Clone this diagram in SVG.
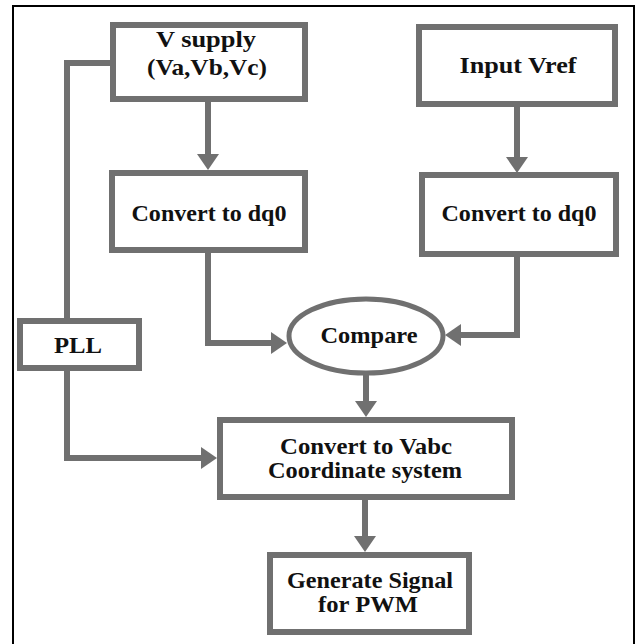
<svg xmlns="http://www.w3.org/2000/svg" width="642" height="644" viewBox="0 0 642 644">
<defs>
<marker id="ah" viewBox="0 0 16 22" refX="0" refY="11" markerWidth="16" markerHeight="22" markerUnits="userSpaceOnUse" orient="auto">
<path d="M0,0 L16,11 L0,22 z" fill="#707070"/>
</marker>
<style>
.box{fill:#fff;stroke:#707070;stroke-width:6}
.ell{fill:#fff;stroke:#707070;stroke-width:5}
.con{fill:none;stroke:#707070;stroke-width:6;stroke-linejoin:miter}
.arr{marker-end:url(#ah)}
.t{font-family:'Liberation Serif','Times New Roman',serif;font-weight:700;font-size:23px;fill:#111;text-anchor:middle}
</style>
</defs>
<rect x="0" y="0" width="642" height="644" fill="#fff"/>
<rect x="13" y="6" width="621" height="650" fill="none" stroke="#000" stroke-width="2"/>
<g id="connectors">
<polyline class="con" points="111,63 67,63 67,319"/>
<polyline class="con arr" points="67,370 67,458 201,458"/>
<polyline class="con arr" points="208,101 208,154"/>
<polyline class="con arr" points="517,106 517,157"/>
<polyline class="con arr" points="208,252 208,343 271,343"/>
<polyline class="con arr" points="517,256 517,335 461,335"/>
<polyline class="con arr" points="366,374 366,401"/>
<polyline class="con arr" points="365,499 365,536"/>
</g>
<g id="vsupply">
<rect class="box" x="113" y="25" width="192" height="74"/>
<text class="t" x="206" y="47" textLength="100" lengthAdjust="spacingAndGlyphs">V supply</text>
<text class="t" x="207" y="75" textLength="120" lengthAdjust="spacingAndGlyphs">(Va,Vb,Vc)</text>
</g>
<g id="inputvref">
<rect class="box" x="419" y="27" width="196" height="77"/>
<text class="t" x="518" y="73" textLength="117" lengthAdjust="spacingAndGlyphs">Input Vref</text>
</g>
<g id="dq0left">
<rect class="box" x="112" y="173" width="193" height="77"/>
<text class="t" x="209" y="221" textLength="155" lengthAdjust="spacingAndGlyphs">Convert to dq0</text>
</g>
<g id="dq0right">
<rect class="box" x="422" y="175" width="194" height="79"/>
<text class="t" x="519" y="221" textLength="155" lengthAdjust="spacingAndGlyphs">Convert to dq0</text>
</g>
<g id="pll">
<rect class="box" x="20" y="321" width="119" height="47"/>
<text class="t" x="78" y="353" textLength="48" lengthAdjust="spacingAndGlyphs">PLL</text>
</g>
<g id="compare">
<ellipse class="ell" cx="366" cy="336" rx="77" ry="37"/>
<text class="t" x="369" y="343" textLength="97" lengthAdjust="spacingAndGlyphs">Compare</text>
</g>
<g id="vabc">
<rect class="box" x="220" y="420" width="292" height="77"/>
<text class="t" x="366" y="454" textLength="172" lengthAdjust="spacingAndGlyphs">Convert to Vabc</text>
<text class="t" x="365" y="478" textLength="194" lengthAdjust="spacingAndGlyphs">Coordinate system</text>
</g>
<g id="pwm">
<rect class="box" x="270" y="555" width="199" height="77"/>
<text class="t" x="370" y="588" textLength="166" lengthAdjust="spacingAndGlyphs">Generate Signal</text>
<text class="t" x="368" y="612" textLength="100" lengthAdjust="spacingAndGlyphs">for PWM</text>
</g>
</svg>
